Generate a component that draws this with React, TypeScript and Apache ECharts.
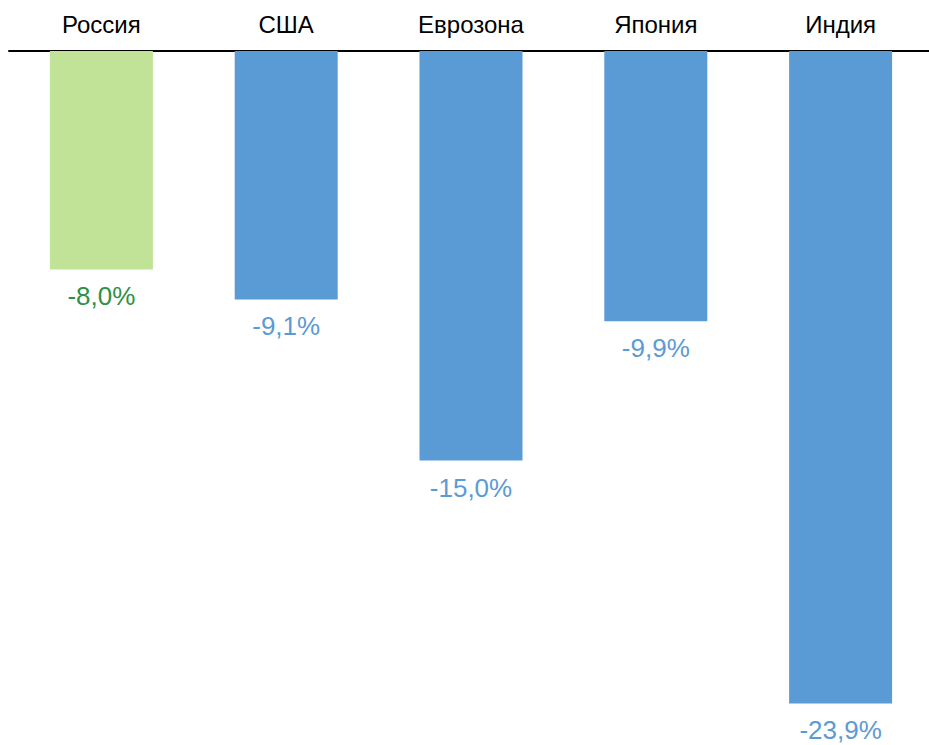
import React, { useEffect, useRef } from "react";
import * as echarts from "echarts";

const categories = ["Россия", "США", "Еврозона", "Япония", "Индия"];
const values = [-8.0, -9.1, -15.0, -9.9, -23.9];
const barColors = ["#c1e398", "#5b9bd5", "#5b9bd5", "#5b9bd5", "#5b9bd5"];
const labelColors = ["#2e9145", "#5b9bd5", "#5b9bd5", "#5b9bd5", "#5b9bd5"];

export default function App() {
  const ref = useRef<HTMLDivElement>(null);
  useEffect(() => {
    if (!ref.current) return;
    const chart = echarts.init(ref.current, null, { renderer: "svg" });
    chart.setOption({
      animation: false,
      backgroundColor: "#ffffff",
      grid: { left: 9, top: 51, width: 924, height: 682.5 },
      xAxis: {
        type: "category",
        position: "top",
        data: categories,
        axisLine: { show: true, lineStyle: { color: "#000000", width: 2 } },
        axisTick: { show: false },
        axisLabel: {
          color: "#000000",
          fontSize: 24,
          fontFamily: "Liberation Sans, Arial, sans-serif",
          margin: 15,
        },
      },
      yAxis: {
        type: "value",
        min: -25,
        max: 0,
        show: false,
        splitLine: { show: false },
      },
      series: [
        {
          type: "bar",
          barWidth: 103,
          data: values.map((v, i) => ({
            value: v,
            itemStyle: { color: barColors[i] },
            label: { color: labelColors[i] },
          })),
          label: {
            show: true,
            position: "bottom",
            distance: 14,
            fontSize: 26,
            fontFamily: "Liberation Sans, Arial, sans-serif",
            formatter: (p: any) => p.value.toFixed(1).replace(".", ",") + "%",
          },
        },
      ],
    });
    return () => chart.dispose();
  }, []);
  return (
    <div
      style={{
        position: "fixed",
        left: 0,
        top: 0,
        width: 929,
        height: 745,
        overflow: "hidden",
        background: "#ffffff",
      }}
    >
      <div ref={ref} style={{ width: 940, height: 745 }} />
    </div>
  );
}
